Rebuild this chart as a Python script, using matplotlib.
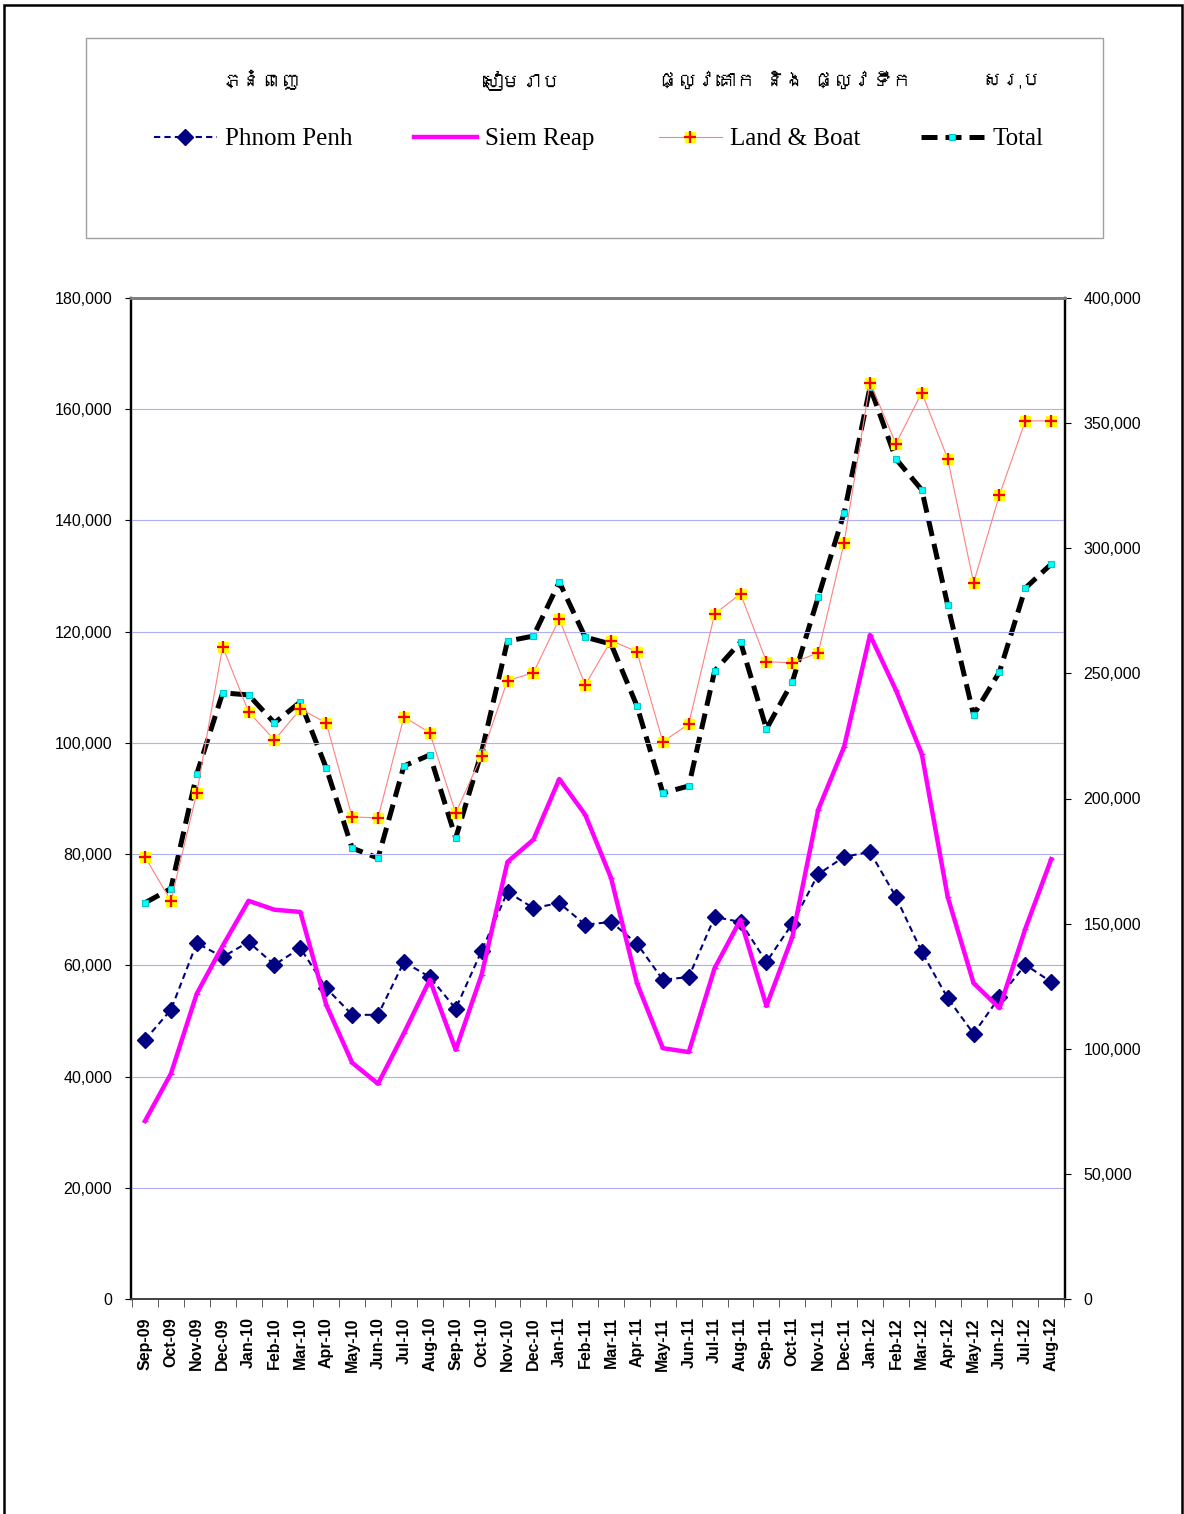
import matplotlib
matplotlib.use("Agg")
import matplotlib.pyplot as plt
from matplotlib import font_manager
from matplotlib.ft2font import FT2Font
from matplotlib.legend_handler import HandlerTuple
from matplotlib.patches import Rectangle
from matplotlib.ticker import FuncFormatter, FixedLocator

# ---------------- data ----------------
months = ["Sep-09", "Oct-09", "Nov-09", "Dec-09", "Jan-10", "Feb-10", "Mar-10", "Apr-10",
          "May-10", "Jun-10", "Jul-10", "Aug-10", "Sep-10", "Oct-10", "Nov-10", "Dec-10",
          "Jan-11", "Feb-11", "Mar-11", "Apr-11", "May-11", "Jun-11", "Jul-11", "Aug-11",
          "Sep-11", "Oct-11", "Nov-11", "Dec-11", "Jan-12", "Feb-12", "Mar-12", "Apr-12",
          "May-12", "Jun-12", "Jul-12", "Aug-12"]

phnom_penh = [46600, 52000, 64000, 61500, 64200, 60100, 63100, 55900,
              51100, 51100, 60600, 57900, 52200, 62600, 73200, 70300,
              71200, 67300, 67800, 63900, 57400, 57900, 68700, 67800,
              60600, 67500, 76400, 79500, 80400, 72300, 62400, 54100,
              47700, 54300, 60100, 57000]

siem_reap = [32000, 40500, 54900, 63500, 71600, 70000, 69600, 52900,
             42500, 38700, 47800, 57400, 44800, 58300, 78600, 82600,
             93500, 87100, 75700, 56800, 45100, 44400, 59500, 68200,
             52700, 65100, 88000, 99300, 119400, 109500, 98000, 72300,
             56800, 52300, 66600, 79100]

land_boat = [79500, 71600, 91000, 117300, 105600, 100500, 106100, 103600,
             86700, 86500, 104700, 101800, 87400, 97700, 111200, 112600,
             122300, 110400, 118400, 116400, 100200, 103400, 123200, 126800,
             114600, 114400, 116200, 136000, 164800, 153800, 163000, 151100,
             128800, 144600, 157900, 157900]

total = [158300, 164000, 209800, 242200, 241400, 230200, 238600, 212200,
         180200, 176200, 213000, 217400, 184200, 218600, 262900, 264900,
         286500, 264500, 261700, 237000, 202200, 205000, 251000, 262500,
         227800, 246600, 280500, 314100, 364400, 335700, 323300, 277300,
         233400, 250600, 284100, 293700]

series_en = ["Phnom Penh", "Siem Reap", "Land & Boat", "Total"]
series_km = ["ភ្នំពេញ", "សៀមរាប", "ផ្លូវគោក និង ផ្លូវទឹក", "សរុប"]

left_ticks = list(range(0, 180001, 20000))
right_ticks = list(range(0, 400001, 50000))

# ---------------- fonts ----------------
def find_font_with(ch):
    for f in font_manager.fontManager.ttflist:
        try:
            ft = FT2Font(f.fname)
            if ft.get_char_index(ord(ch)):
                return f.name
        except Exception:
            pass
    return None

khmer_font = find_font_with("ក")
khmer_family = [khmer_font, "DejaVu Sans"] if khmer_font else ["DejaVu Sans"]
serif = "Liberation Serif"
sans = "Liberation Sans"

# ---------------- figure ----------------
W, H = 1184, 1514
fig = plt.figure(figsize=(W / 100, H / 100), dpi=100)

def fx(px):
    return px / W

def fy(py):
    return 1 - py / H

# outer border
fig.patches.append(Rectangle((fx(4), fy(1520)), fx(1182) - fx(4), fy(5) - fy(1520),
                             transform=fig.transFigure, fill=False, edgecolor="black",
                             linewidth=1.8, zorder=0))
# legend box
fig.patches.append(Rectangle((fx(86), fy(238)), fx(1103) - fx(86), fy(38) - fy(238),
                             transform=fig.transFigure, fill=False, edgecolor="#A0A0A0",
                             linewidth=1.0, zorder=0))

ax = fig.add_axes([fx(131), fy(1299), fx(1065) - fx(131), fy(298) - fy(1299)])
ax2 = ax.twinx()

x = list(range(len(months)))

# Phnom Penh
l_pp, = ax.plot(x, phnom_penh, color="#000080", linestyle=(0, (3, 2)), linewidth=1.5,
                marker="D", markersize=8, markerfacecolor="#000080",
                markeredgecolor="#000080", zorder=4)
# Siem Reap
l_sr, = ax.plot(x, siem_reap, color="#FF00FF", linewidth=3.2, marker="_",
                markersize=4, markeredgecolor="#FF00FF", zorder=5)
# Land & Boat
l_lb, = ax.plot(x, land_boat, color="#FF8080", linewidth=0.8, marker="s",
                markersize=7, markerfacecolor="#FFFF00", markeredgecolor="#FFFF00",
                zorder=3)
l_lb2, = ax.plot(x, land_boat, linestyle="none", marker="+", markersize=8,
                 markeredgewidth=1.6, color="#FF0000", zorder=3.1)
# Total (right axis)
l_tot, = ax2.plot(x, total, color="black", linestyle=(0, (3.2, 1.6)), linewidth=3.6,
                  marker="s", markersize=4.5, markerfacecolor="#00FFFF",
                  markeredgecolor="#00C8C8", markeredgewidth=0.8, zorder=6)

# axes styling
ax.set_xlim(-0.54, 35.53)
ax2.set_xlim(-0.54, 35.53)
ax.set_ylim(0, 180000)
ax2.set_ylim(0, 400000)

fmt = FuncFormatter(lambda v, p: f"{int(v):,}")
ax.yaxis.set_major_locator(FixedLocator(left_ticks))
ax.yaxis.set_major_formatter(fmt)
ax2.yaxis.set_major_locator(FixedLocator(right_ticks))
ax2.yaxis.set_major_formatter(fmt)

ax.set_xticks(x)
ax.set_xticklabels(months, rotation=90, fontsize=11.5, fontweight="bold", family=sans)
ax.tick_params(axis="x", which="major", length=0, pad=13)
ax.set_xticks([i - 0.5 for i in range(len(months) + 1)], minor=True)
ax.tick_params(axis="x", which="minor", length=6, direction="out", color="#404040")

ax.tick_params(axis="y", length=4.5, direction="out", labelsize=11.5, pad=9)
ax2.tick_params(axis="y", length=4.5, direction="out", labelsize=11.5, pad=9)
for lab in ax.get_yticklabels() + ax2.get_yticklabels():
    lab.set_family(sans)

ax.grid(axis="y", color="#B0B0F0", linewidth=0.8)
ax.set_axisbelow(True)

for a in (ax, ax2):
    a.spines["top"].set_color("#808080")
    a.spines["top"].set_linewidth(2.0)
    a.spines["left"].set_linewidth(1.6)
    a.spines["right"].set_linewidth(1.6)
    a.spines["bottom"].set_linewidth(1.2)
    a.spines["bottom"].set_color("#404040")

ax.set_zorder(ax2.get_zorder() + 1)
ax.patch.set_visible(False)

# ---------------- legend ----------------
handles = [l_pp, l_sr, (l_lb, l_lb2), l_tot]
leg_x = [154, 414, 659, 921]
for h, lbl, xx in zip(handles, series_en, leg_x):
    fig.legend([h], [lbl], loc="center left", bbox_to_anchor=(fx(xx), fy(139)),
               frameon=False, handlelength=2.5, handletextpad=0.35,
               borderpad=0, borderaxespad=0,
               prop={"family": serif, "size": 18},
               handler_map={tuple: HandlerTuple(ndivide=1)})

km_x = [261, 522, 785, 1012]
for t, xx in zip(series_km, km_x):
    fig.text(fx(xx), fy(80), t, ha="center", va="center", fontsize=14,
             family=khmer_family)

fig.savefig("out.png", dpi=100)
